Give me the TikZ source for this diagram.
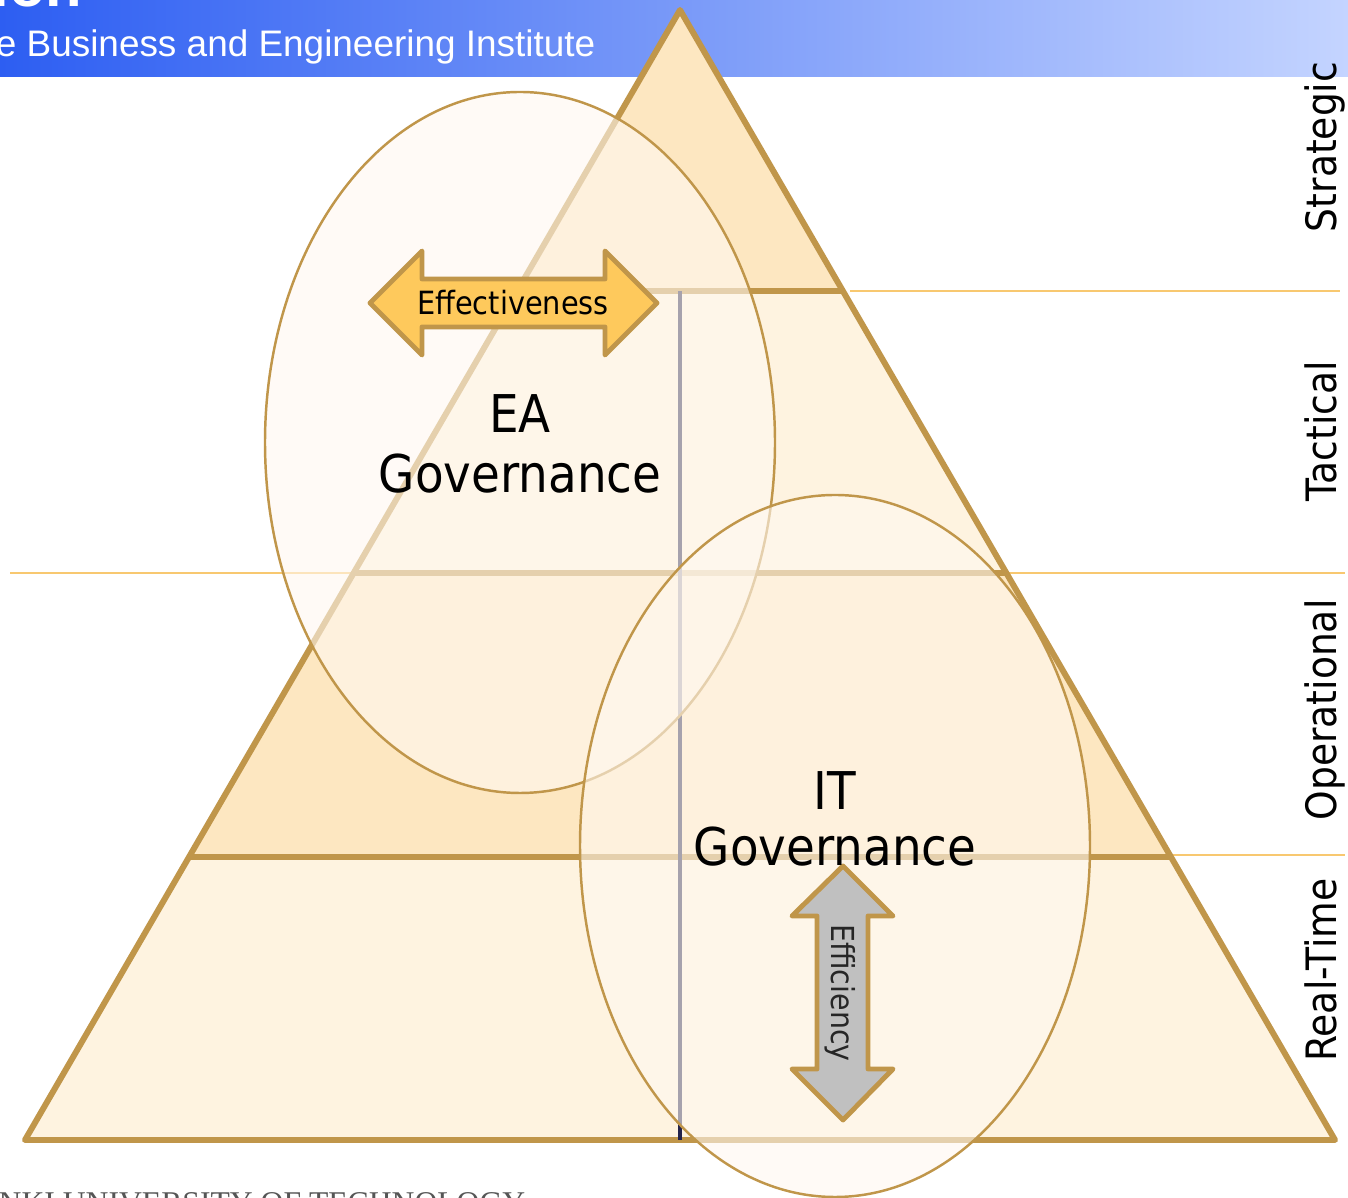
\documentclass[tikz,border=0pt]{standalone}
\usepackage{fontspec}
\setmainfont{DejaVu Sans}[FakeStretch=0.9]
\newfontfamily\arialf{Liberation Sans}
\newfontfamily\timesf{Liberation Serif}
\definecolor{gold}{HTML}{C0964A}
\definecolor{bandA}{HTML}{FDE7C1}
\definecolor{bandB}{HTML}{FEF3E0}
\definecolor{thinline}{HTML}{F8C870}
\definecolor{ellfill}{HTML}{FFF8F0}
\definecolor{effy}{HTML}{FEC95C}
\definecolor{effg}{HTML}{C0C0C0}
\definecolor{navyline}{HTML}{22224A}
\definecolor{bannerL}{HTML}{2D5EF2}
\definecolor{bannerM}{HTML}{6F9BFF}
\definecolor{bannerR}{HTML}{C4D4FF}
\definecolor{footgray}{HTML}{555555}
\tikzset{
  bandline/.style={gold, line width=1.5pt},
  outerline/.style={thinline, line width=0.6pt},
  govellipse/.style={draw=gold, line width=0.7pt, fill=ellfill, fill opacity=0.6},
  arrowshape/.style={draw=gold, line width=1.4pt, line join=round},
  govtext/.style={font=\fontsize{14.8}{17}\selectfont, anchor=base, inner sep=0pt},
  sidetext/.style={font=\fontsize{11.9}{14}\selectfont, anchor=base, rotate=90, inner sep=0pt},
}
\begin{document}
\begin{tikzpicture}[x=0.01cm,y=-0.01cm]
\useasboundingbox (0,0) rectangle (1348,1198);
\clip (0,0) rectangle (1348,1198);
\fill[white] (0,0) rectangle (1348,1198);
% banner
\shade[left color=bannerL, middle color=bannerM, right color=bannerR] (0,0) rectangle (1348,77);
\node (title) [anchor=base west, text=white, inner sep=0pt, font=\arialf\bfseries\fontsize{17}{20}\selectfont] at (-8,7) {ion};
\node (sub) [anchor=base east, text=white, inner sep=0pt, font=\arialf\fontsize{10.5}{12}\selectfont] at (596,57) {Software Business and Engineering Institute};
% thin outer lines
\coordinate (l1a) at (850,291); \coordinate (l1b) at (1340,291);
\coordinate (l2a) at (10,573); \coordinate (l2b) at (1345,573);
\coordinate (l3a) at (1170,855); \coordinate (l3b) at (1345,855);
\draw[outerline] (l1a) -- (l1b);
\draw[outerline] (l2a) -- (l2b);
\draw[outerline] (l3a) -- (l3b);
% triangle bands
\coordinate (apex) at (680,10);
\coordinate (s1l) at (517.1,291); \coordinate (s1r) at (842.9,291);
\coordinate (s2l) at (353.7,573); \coordinate (s2r) at (1006.3,573);
\coordinate (s3l) at (189,857); \coordinate (s3r) at (1171,857);
\coordinate (bl) at (25,1140); \coordinate (br) at (1335,1140);
\fill[bandA] (apex) -- (s1r) -- (s1l) -- cycle;
\fill[bandB] (s1l) -- (s1r) -- (s2r) -- (s2l) -- cycle;
\fill[bandA] (s2l) -- (s2r) -- (s3r) -- (s3l) -- cycle;
\fill[bandB] (s3l) -- (s3r) -- (br) -- (bl) -- cycle;
\draw[bandline] (s1l) -- (s1r);
\draw[bandline] (s2l) -- (s2r);
\draw[bandline] (s3l) -- (s3r);
\draw[gold, line width=1.7pt, line join=round] (apex) -- (br) -- (bl) -- cycle;
% vertical divider
\coordinate (vt) at (680,291); \coordinate (vb) at (680,1140);
\draw[navyline, line width=1.1pt] (vt) -- (vb);
% ellipses
\draw[govellipse] (520,442.5) ellipse [x radius=255, y radius=350.5];
\draw[govellipse] (835,846) ellipse [x radius=255, y radius=351];
% effectiveness arrow
\draw[arrowshape, fill=effy] (370,303) -- (422,251) -- (422,279) -- (605,279) -- (605,251) -- (657,303) -- (605,355) -- (605,327) -- (422,327) -- (422,355) -- cycle;
\node (eff) [font=\fontsize{9.1}{11}\selectfont] at (513,303) {Effectiveness};
% efficiency arrow
\draw[arrowshape, fill=effg] (843,866) -- (893,916) -- (868,916) -- (868,1069) -- (893,1069) -- (843,1120) -- (792,1069) -- (817,1069) -- (817,916) -- (792,916) -- cycle;
\node (effc) [rotate=-90, text={black!85}, font=\fontsize{9}{11}\selectfont] at (840,993) {Efficiency};
% governance labels
\node (ea1) [govtext] at (520,433) {EA};
\node (ea2) [govtext] at (520,493) {Governance};
\node (it1) [govtext] at (835,810) {IT};
\node (it2) [govtext] at (835,866) {Governance};
% side labels
\node (strat) [sidetext] at (1336,147) {Strategic};
\node (tact) [sidetext] at (1336,431) {Tactical};
\node (oper) [sidetext] at (1336,710) {Operational};
\node (rt) [sidetext] at (1336,970) {Real-Time};
% footer
\node (foot) [anchor=base east, text=footgray, inner sep=0pt, font=\timesf\fontsize{9}{11}\selectfont] at (526,1214) {HELSINKI UNIVERSITY OF TECHNOLOGY};
\end{tikzpicture}
\end{document}
